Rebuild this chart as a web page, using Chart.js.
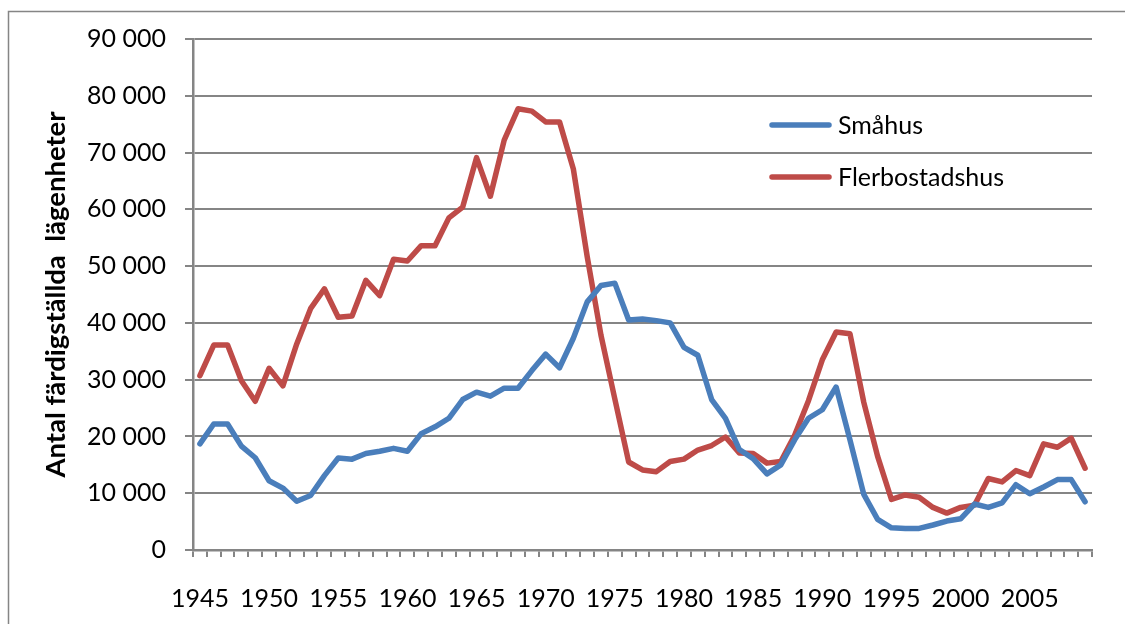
<!DOCTYPE html>
<html>
<head>
<meta charset="utf-8">
<script src="https://cdn.jsdelivr.net/npm/chart.js@4.4.0/dist/chart.umd.min.js"></script>
<style>
  html, body { margin: 0; padding: 0; background: #fff; overflow: hidden; }
  #wrap { width: 1125px; height: 624px; }
</style>
</head>
<body>
<div id="wrap"><canvas id="chart" width="1125" height="624"></canvas></div>
<script>
// Färdigställda lägenheter per år, 1945–2009
const years = [
    1945, 1946, 1947, 1948, 1949, 1950, 1951, 1952, 1953, 1954,
    1955, 1956, 1957, 1958, 1959, 1960, 1961, 1962, 1963, 1964,
    1965, 1966, 1967, 1968, 1969, 1970, 1971, 1972, 1973, 1974,
    1975, 1976, 1977, 1978, 1979, 1980, 1981, 1982, 1983, 1984,
    1985, 1986, 1987, 1988, 1989, 1990, 1991, 1992, 1993, 1994,
    1995, 1996, 1997, 1998, 1999, 2000, 2001, 2002, 2003, 2004,
    2005, 2006, 2007, 2008, 2009
];

const smahus = [
    18700, 22200, 22200, 18300, 16250, 12200, 10900, 8600, 9600, 13100,
    16200, 16000, 17000, 17400, 17900, 17400, 20500, 21700, 23200, 26500,
    27800, 27100, 28500, 28500, 31600, 34500, 32100, 37300, 43700, 46600,
    47000, 40500, 40700, 40400, 40000, 35700, 34300, 26500, 23200, 17700,
    16100, 13400, 15000, 19400, 23200, 24700, 28700, 19400, 9800, 5400,
    3900, 3800, 3800, 4400, 5100, 5500, 8100, 7500, 8300, 11500,
    9900, 11100, 12400, 12400, 8500
];

const flerbostadshus = [
    30700, 36100, 36100, 29800, 26200, 32000, 28900, 36300, 42500, 46000,
    41000, 41200, 47500, 44800, 51200, 50900, 53600, 53600, 58500, 60400,
    69100, 62300, 72200, 77700, 77300, 75400, 75400, 67100, 51700, 37800,
    26600, 15500, 14100, 13800, 15600, 16000, 17600, 18400, 19900, 17100,
    17000, 15300, 15600, 20200, 26300, 33500, 38400, 38100, 26000, 16500,
    8900, 9700, 9300, 7500, 6500, 7500, 7900, 12600, 12000, 14000,
    13100, 18700, 18100, 19700, 14400
];

const yTicks = [0, 10000, 20000, 30000, 40000, 50000, 60000, 70000, 80000, 90000];

const FONT = 'Lato';
const AXIS_GREY = '#858585';

const fmt = (v) => String(v).replace(/\B(?=(\d{3})+(?!\d))/g, ' ');

// ram runt diagrammet (beskuren till höger och nedtill)
const framePlugin = {
    id: 'frame',
    beforeDraw(chart) {
        const ctx = chart.ctx;
        ctx.save();
        ctx.strokeStyle = AXIS_GREY;
        ctx.lineWidth = 1.5;
        ctx.strokeRect(8.5, 11.5, 1400, 900);
        ctx.restore();
    }
};

// förklaring inne i diagramytan
const legendPlugin = {
    id: 'insideLegend',
    afterDraw(chart) {
        const ctx = chart.ctx;
        ctx.save();
        ctx.font = `25px ${FONT}`;
        ctx.textBaseline = 'middle';
        ctx.textAlign = 'left';
        chart.data.datasets.forEach((ds, i) => {
            const y = 125 + i * 52;
            ctx.strokeStyle = ds.borderColor;
            ctx.lineWidth = 5.5;
            ctx.lineCap = 'round';
            ctx.beginPath();
            ctx.moveTo(772, y);
            ctx.lineTo(829, y);
            ctx.stroke();
            ctx.fillStyle = '#000';
            ctx.fillText(ds.label, 838, y + 1);
        });
        ctx.restore();
    }
};

new Chart(document.getElementById('chart'), {
    type: 'line',
    data: {
        labels: years.map(String),
        datasets: [
            {
                label: 'Småhus',
                data: smahus,
                borderColor: '#4a7ebb',
                backgroundColor: '#4a7ebb',
                borderWidth: 5.5,
                borderJoinStyle: 'round',
                borderCapStyle: 'round',
                pointRadius: 0,
                tension: 0
            },
            {
                label: 'Flerbostadshus',
                data: flerbostadshus,
                borderColor: '#be4b48',
                backgroundColor: '#be4b48',
                borderWidth: 5.5,
                borderJoinStyle: 'round',
                borderCapStyle: 'round',
                pointRadius: 0,
                tension: 0
            }
        ]
    },
    options: {
        responsive: false,
        animation: false,
        devicePixelRatio: 1,
        layout: { padding: { top: 39, right: 33, left: 0, bottom: 0 } },
        plugins: {
            legend: { display: false },
            tooltip: { enabled: false }
        },
        scales: {
            x: {
                offset: true,
                afterFit: (scale) => { scale.height = 74; },
                grid: {
                    offset: true,
                    drawOnChartArea: false,
                    drawTicks: true,
                    tickLength: 7,
                    color: AXIS_GREY,
                    lineWidth: 2
                },
                border: { display: true, color: AXIS_GREY, width: 2.5 },
                ticks: {
                    autoSkip: false,
                    maxRotation: 0,
                    minRotation: 0,
                    padding: 27,
                    color: '#000',
                    font: { family: FONT, size: 25 },
                    callback: (v, i) => (i % 5 === 0 ? years[i] : '')
                }
            },
            y: {
                min: 0,
                max: 90000,
                afterFit: (scale) => { scale.width = 193; },
                afterBuildTicks: (scale) => { scale.ticks = yTicks.map(v => ({ value: v })); },
                grid: {
                    drawTicks: true,
                    tickLength: 8,
                    color: AXIS_GREY,
                    lineWidth: 2
                },
                border: { display: true, color: AXIS_GREY, width: 2.5 },
                ticks: {
                    padding: 19,
                    color: '#000',
                    font: { family: FONT, size: 25 },
                    callback: (v) => fmt(v)
                },
                title: {
                    display: true,
                    text: 'Antal färdigställda  lägenheter',
                    color: '#000',
                    font: { family: FONT, size: 27.5, weight: 'bold' },
                    padding: { top: 40, bottom: 0 }
                }
            }
        }
    },
    plugins: [framePlugin, legendPlugin]
});
</script>
</body>
</html>
